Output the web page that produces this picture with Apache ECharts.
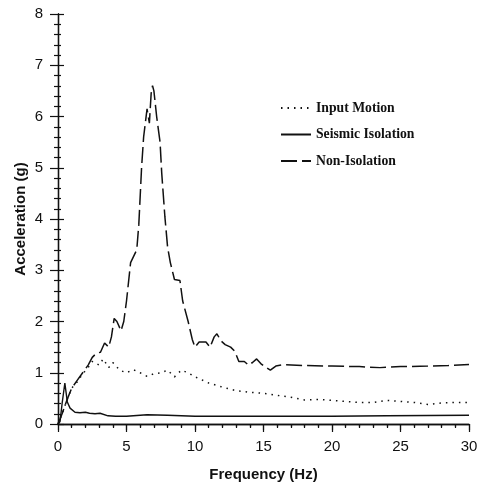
<!DOCTYPE html>
<html>
<head>
<meta charset="utf-8">
<script src="https://cdn.jsdelivr.net/npm/echarts@6/dist/echarts.min.js"></script>
<style>html,body{margin:0;padding:0;background:#fff;}#c{width:483px;height:485px;}</style>
</head>
<body>
<div id="c"></div>
<script>
const seriesNames = ['Input Motion', 'Seismic Isolation', 'Non-Isolation'];
const xTicks = [0, 5, 10, 15, 20, 25, 30];
const yTicks = [0, 1, 2, 3, 4, 5, 6, 7, 8];

const inputX = [0, 0.3, 0.7, 1.0, 1.4, 1.8, 2.2, 2.5, 2.8, 3.0, 3.3, 3.7, 4.0, 4.5, 5.0, 5.5, 6.0, 6.5, 7.0, 7.5, 8.0, 8.5, 9.0, 9.5, 10, 11, 12, 13, 14, 15, 16, 17, 18, 19, 20, 21, 22, 23, 24, 25, 26, 27, 28, 29, 30];
const inputY = [0, 0.2, 0.5, 0.7, 0.82, 0.98, 1.1, 1.22, 1.18, 1.15, 1.27, 1.1, 1.2, 1.05, 1.0, 1.06, 1.0, 0.93, 0.98, 1.0, 1.05, 0.92, 1.05, 1.0, 0.92, 0.8, 0.72, 0.65, 0.62, 0.6, 0.56, 0.52, 0.47, 0.48, 0.46, 0.44, 0.42, 0.42, 0.46, 0.44, 0.42, 0.38, 0.41, 0.42, 0.42];

const isoX = [0, 0.15, 0.3, 0.5, 0.68, 0.88, 1.24, 1.6, 2.0, 2.3, 2.7, 3.07, 3.65, 4.2, 5.0, 6.0, 6.5, 8, 10, 15, 20, 24, 30];
const isoY = [0, 0.05, 0.4, 0.8, 0.43, 0.31, 0.23, 0.22, 0.23, 0.21, 0.2, 0.21, 0.16, 0.15, 0.15, 0.17, 0.18, 0.17, 0.15, 0.15, 0.15, 0.16, 0.17];

const nonX = [0, 0.3, 0.7, 1.0, 1.4, 1.8, 2.2, 2.5, 2.8, 3.1, 3.4, 3.7, 3.9, 4.1, 4.3, 4.6, 4.8, 5.0, 5.3, 5.75, 5.9, 6.1, 6.25, 6.5, 6.67, 6.8, 6.9, 7.0, 7.2, 7.45, 7.57, 7.8, 8.0, 8.2, 8.5, 8.9, 9.1, 9.5, 9.8, 10.0, 10.3, 10.8, 11.1, 11.4, 11.6, 11.9, 12.2, 12.6, 12.9, 13.2, 13.6, 13.9, 14.2, 14.5, 14.8, 15.2, 15.5, 15.9, 16.5, 18, 20, 22, 23.5, 25, 27, 28.5, 30];
const nonY = [0, 0.2, 0.5, 0.7, 0.85, 1.0, 1.15, 1.3, 1.38, 1.4, 1.58, 1.5, 1.7, 2.06, 2.0, 1.82, 2.0, 2.4, 3.15, 3.4, 3.9, 5.0, 5.6, 6.15, 5.87, 6.45, 6.6, 6.5, 6.0, 5.5, 4.9, 4.05, 3.45, 3.15, 2.82, 2.8, 2.4, 2.0, 1.65, 1.5, 1.6, 1.6, 1.5, 1.7, 1.76, 1.62, 1.55, 1.5, 1.42, 1.22, 1.22, 1.15, 1.2, 1.27, 1.18, 1.1, 1.05, 1.13, 1.16, 1.14, 1.13, 1.12, 1.1, 1.12, 1.13, 1.14, 1.16];

function zip(xs, ys) { return xs.map((x, i) => [x, ys[i]]); }

const black = '#111';
const labelFont = { color: black, fontFamily: 'Liberation Sans, Arial, sans-serif', fontSize: 15 };
const nameFont = { color: black, fontFamily: 'Liberation Sans, Arial, sans-serif', fontSize: 15, fontWeight: 'bold' };

const chart = echarts.init(document.getElementById('c'));
chart.setOption({
  animation: false,
  backgroundColor: '#fff',
  grid: { left: 58, right: 14, top: 14, bottom: 61, containLabel: false, outerBoundsMode: 'none' },
  legend: {
    orient: 'vertical', left: 275, top: 96, itemWidth: 30, itemHeight: 14, itemGap: 12.5,
    data: seriesNames,
    itemStyle: { opacity: 0 },
    textStyle: { color: black, fontFamily: 'Liberation Serif, Times New Roman, serif', fontSize: 13.7, fontWeight: 'bold' }
  },
  xAxis: [
    {
      type: 'value', min: 0, max: 30, interval: 5, position: 'bottom',
      name: 'Frequency (Hz)', nameLocation: 'middle', nameGap: 43, nameMoveOverlap: false, nameTextStyle: nameFont,
      axisLine: { lineStyle: { color: black, width: 1.3 } },
      axisTick: { inside: false, length: 8, lineStyle: { color: black, width: 1.2 } },
      minorTick: { show: true, splitNumber: 5, length: 4, lineStyle: { color: black, width: 1.2 } },
      axisLabel: Object.assign({ margin: 15, formatter: v => xTicks.includes(v) ? String(v) : '' }, labelFont),
      splitLine: { show: false }
    },
    {
      type: 'value', min: 0, max: 30, interval: 5, position: 'top',
      axisLine: { show: true, lineStyle: { color: black, width: 1.3 } },
      axisTick: { inside: true, length: 6, lineStyle: { color: black, width: 1.2 } },
      minorTick: { show: true, splitNumber: 5, length: 3, lineStyle: { color: black, width: 1.2 } },
      axisLabel: { show: false }, splitLine: { show: false }
    }
  ],
  yAxis: [
    {
      type: 'value', min: 0, max: 8, interval: 1, position: 'left',
      name: 'Acceleration (g)', nameLocation: 'middle', nameGap: 30, nameMoveOverlap: false, nameTextStyle: nameFont,
      axisLine: { show: true, lineStyle: { color: black, width: 1.3 } },
      axisTick: { show: true, inside: false, length: 8, lineStyle: { color: black, width: 1.2 } },
      minorTick: { show: true, splitNumber: 5, length: 4, lineStyle: { color: black, width: 1.2 } },
      axisLabel: Object.assign({ margin: 15, formatter: v => yTicks.includes(v) ? String(v) : '' }, labelFont),
      splitLine: { show: false }
    },
    {
      type: 'value', min: 0, max: 8, interval: 1, position: 'right',
      axisLine: { show: true, lineStyle: { color: black, width: 1.3 } },
      axisTick: { show: true, inside: false, length: 6, lineStyle: { color: black, width: 1.2 } },
      minorTick: { show: true, splitNumber: 5, length: 3, lineStyle: { color: black, width: 1.2 } },
      axisLabel: { show: false }, splitLine: { show: false }
    }
  ],
  series: [
    {
      name: seriesNames[0], type: 'line', data: zip(inputX, inputY), showSymbol: false, symbol: 'none',
      lineStyle: { color: black, width: 1.5, type: [1.5, 5] }, itemStyle: { color: black }
    },
    {
      name: seriesNames[1], type: 'line', data: zip(isoX, isoY), showSymbol: false, symbol: 'none',
      lineStyle: { color: black, width: 1.4, type: 'solid' }, itemStyle: { color: black }
    },
    {
      name: seriesNames[2], type: 'line', data: zip(nonX, nonY), showSymbol: false, symbol: 'none',
      lineStyle: { color: black, width: 1.5, type: [16, 5] }, itemStyle: { color: black }
    }
  ]
});
</script>
</body>
</html>
